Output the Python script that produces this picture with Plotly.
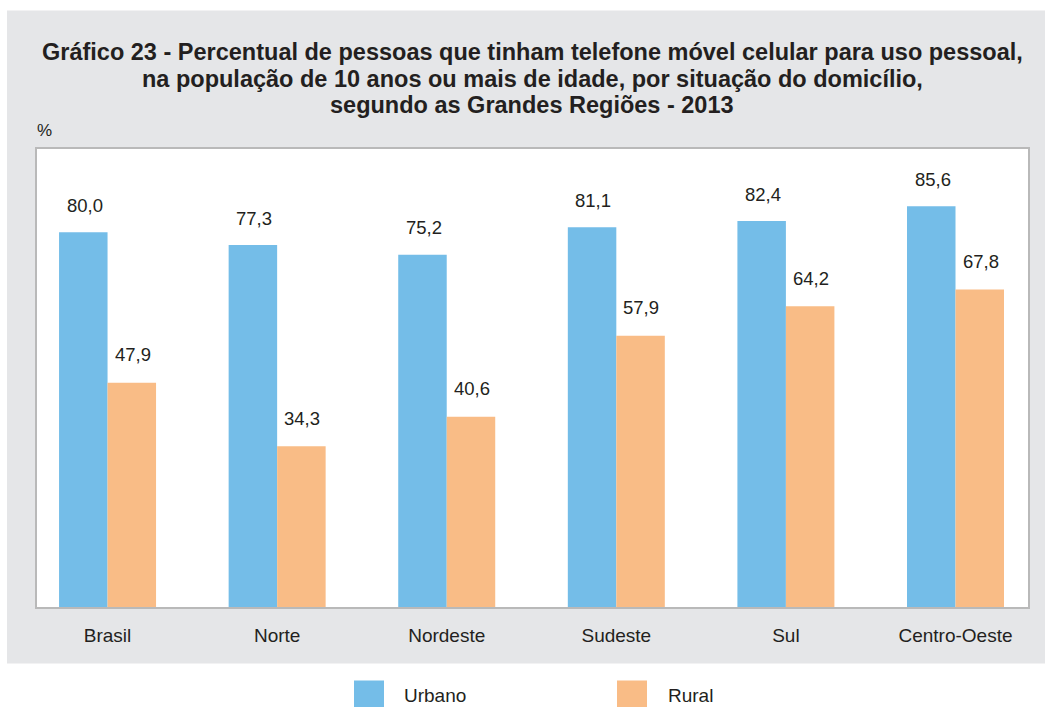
import plotly.graph_objects as go

categories = ["Brasil", "Norte", "Nordeste", "Sudeste", "Sul", "Centro-Oeste"]
urbano = [80.0, 77.3, 75.2, 81.1, 82.4, 85.6]
rural = [47.9, 34.3, 40.6, 57.9, 64.2, 67.8]
series_names = ["Urbano", "Rural"]
title_lines = ["Gráfico 23 - Percentual de pessoas que tinham telefone móvel celular para uso pessoal,",
               "na população de 10 anos ou mais de idade, por situação do domicílio,",
               "segundo as Grandes Regiões - 2013"]

BLUE = "#74bde8"
ORANGE = "#f9bc86"
GRAY = "#e5e6e8"
TXT = "#231f20"
FONT = "Liberation Sans"

# plot area: x 37..1028, y 149.5..607.5 (page px)
PW = 991.0
PH = 458.0
def px(page_x):
    return (page_x - 37) / PW
def py(page_y):
    return (607.5 - page_y) / PH

def fmt(v):
    return f"{v:.1f}".replace(".", ",")

fig = go.Figure()
fig.add_trace(go.Bar(x=categories, y=urbano, name=series_names[0], marker=dict(color=BLUE, line=dict(width=0))))
fig.add_trace(go.Bar(x=categories, y=rural, name=series_names[1], marker=dict(color=ORANGE, line=dict(width=0))))

annotations = []
for c, v in zip(categories, urbano):
    annotations.append(dict(x=c, y=v, xref="x", yref="y", text=fmt(v), showarrow=False,
                            xshift=-23, yshift=27, yanchor="middle", font=dict(size=18.5, color=TXT, family=FONT)))
for c, v in zip(categories, rural):
    annotations.append(dict(x=c, y=v, xref="x", yref="y", text=fmt(v), showarrow=False,
                            xshift=25, yshift=28, yanchor="middle", font=dict(size=18.5, color=TXT, family=FONT)))

# title lines
for line, yc in zip(title_lines, [52, 79, 106]):
    annotations.append(dict(x=px(532), y=py(yc), xref="paper", yref="paper", text="<b>" + line + "</b>",
                            showarrow=False, xanchor="center", yanchor="middle",
                            font=dict(size=23.5, color=TXT, family=FONT)))
# % unit
annotations.append(dict(x=0.0, y=py(131), xref="paper", yref="paper", text="%", showarrow=False,
                        xanchor="left", yanchor="middle", xshift=-2, font=dict(size=17, color=TXT, family=FONT)))
# legend texts
annotations.append(dict(x=px(402), y=py(696), xref="paper", yref="paper", text=series_names[0], showarrow=False,
                        xanchor="left", yanchor="middle", font=dict(size=19, color=TXT, family=FONT)))
annotations.append(dict(x=px(666), y=py(696), xref="paper", yref="paper", text=series_names[1], showarrow=False,
                        xanchor="left", yanchor="middle", font=dict(size=19, color=TXT, family=FONT)))

shapes = [
    dict(type="rect", xref="paper", yref="paper", x0=px(7), x1=px(1050), y0=py(664), y1=py(11),
         fillcolor=GRAY, line=dict(width=0), layer="below"),
    dict(type="rect", xref="paper", yref="paper", x0=0, x1=1, y0=0, y1=1,
         fillcolor="white", line=dict(width=0), layer="below"),
    dict(type="rect", xref="paper", yref="paper", x0=px(354), x1=px(384), y0=py(715), y1=py(681),
         fillcolor=BLUE, line=dict(width=0)),
    dict(type="rect", xref="paper", yref="paper", x0=px(617), x1=px(647), y0=py(715), y1=py(681),
         fillcolor=ORANGE, line=dict(width=0)),
]

fig.update_layout(
    width=1045, height=707,
    margin=dict(l=37, r=17, t=149, b=100),
    barmode="group", bargap=0.428, bargroupgap=0,
    paper_bgcolor="white", plot_bgcolor="white",
    showlegend=False,
    font=dict(family=FONT, color=TXT),
    annotations=annotations, shapes=shapes,
    xaxis=dict(range=[-0.416, 5.4275], showline=True, mirror=True, linecolor="#b9b9b9", linewidth=2,
               ticks="", tickfont=dict(size=19, color=TXT, family=FONT), ticklabelstandoff=10,
               showgrid=False, zeroline=False, fixedrange=True),
    yaxis=dict(range=[0, 97.8], showline=True, mirror=True, linecolor="#b9b9b9", linewidth=2,
               showticklabels=False, ticks="", showgrid=False, zeroline=False, fixedrange=True),
)

# remove the default 8px page margin so the 1045x707 figure fills the window exactly
fig.write_html("out.html", config={"displayModeBar": False},
               post_script="document.body.style.margin='0';document.body.style.overflow='hidden';")
